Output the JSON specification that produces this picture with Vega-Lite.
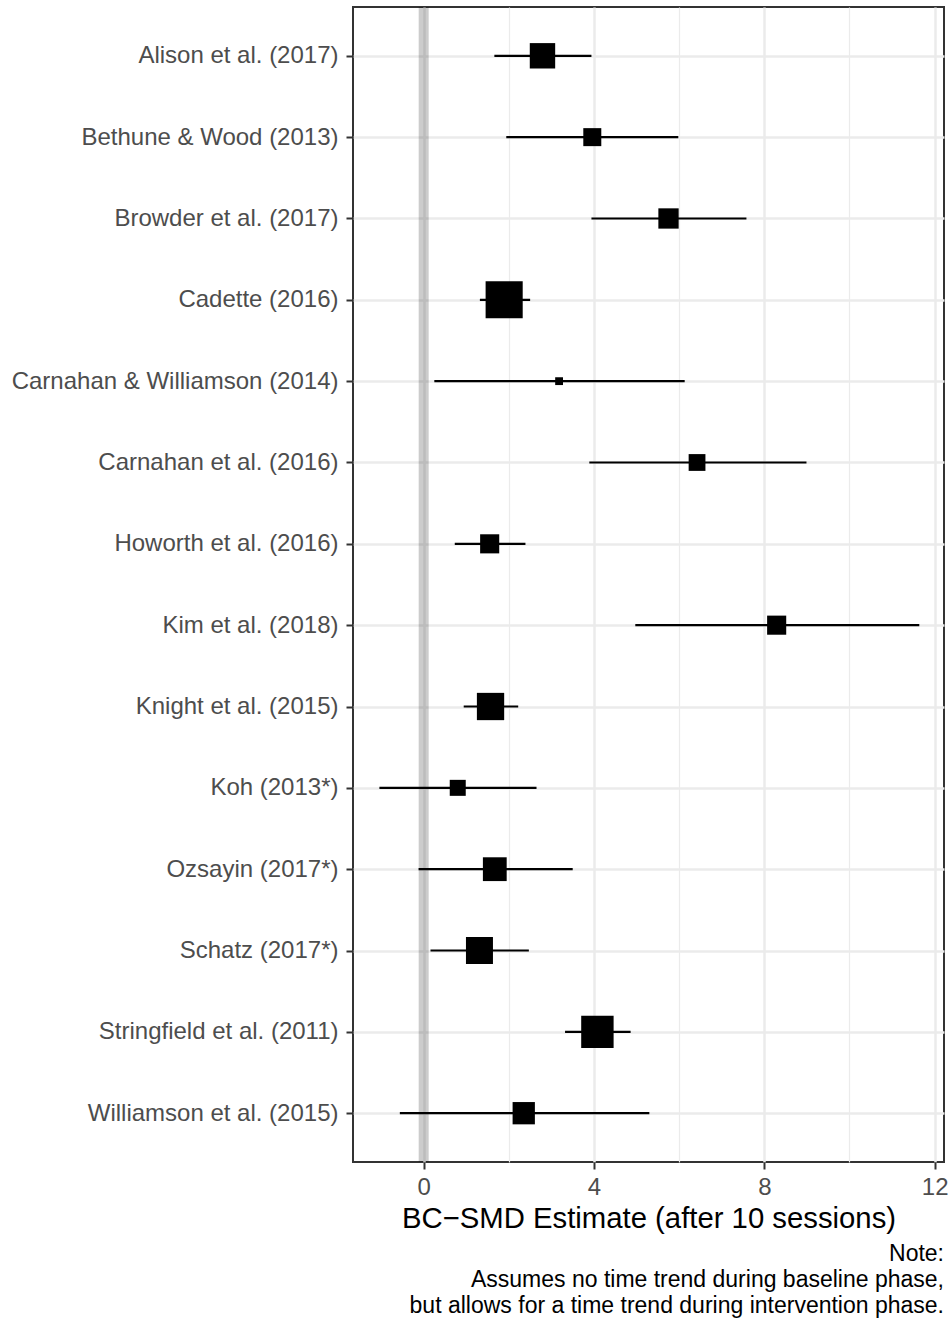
{
  "$schema": "https://vega.github.io/schema/vega-lite/v6.json",
  "autosize": "none",
  "width": 591,
  "height": 1155,
  "padding": {"left": 353, "top": 7, "right": 6, "bottom": 160},
  "background": "white",
  "config": {
    "font": "Liberation Sans",
    "view": {"stroke": "#333333", "strokeWidth": 2},
    "axis": {"labelFont": "Liberation Sans", "titleFont": "Liberation Sans"}
  },
  "title": {
    "text": ["Note:", "Assumes no time trend during baseline phase,", "but allows for a time trend during intervention phase."],
    "orient": "bottom",
    "anchor": "end",
    "frame": "group",
    "align": "right",
    "fontSize": 23,
    "fontWeight": "normal",
    "font": "Liberation Sans",
    "color": "#000000",
    "lineHeight": 25.8,
    "offset": 10
  },
  "datasets": {
    "studies": [
      {"study": "Alison et al. (2017)", "est": 2.79, "lower": 1.66, "upper": 3.94, "weight": 6.45},
      {"study": "Bethune & Wood (2013)", "est": 3.96, "lower": 1.94, "upper": 5.98, "weight": 3.24},
      {"study": "Browder et al. (2017)", "est": 5.75, "lower": 3.94, "upper": 7.58, "weight": 4.12},
      {"study": "Cadette (2016)", "est": 1.89, "lower": 1.32, "upper": 2.5, "weight": 13.76},
      {"study": "Carnahan & Williamson (2014)", "est": 3.18, "lower": 0.25, "upper": 6.13, "weight": 0.61},
      {"study": "Carnahan et al. (2016)", "est": 6.42, "lower": 3.89, "upper": 8.99, "weight": 2.82},
      {"study": "Howorth et al. (2016)", "est": 1.55, "lower": 0.73, "upper": 2.39, "weight": 3.65},
      {"study": "Kim et al. (2018)", "est": 8.29, "lower": 4.97, "upper": 11.64, "weight": 3.65},
      {"study": "Knight et al. (2015)", "est": 1.57, "lower": 0.94, "upper": 2.22, "weight": 7.45},
      {"study": "Koh (2013*)", "est": 0.8, "lower": -1.04, "upper": 2.65, "weight": 2.56},
      {"study": "Ozsayin (2017*)", "est": 1.67, "lower": -0.12, "upper": 3.5, "weight": 5.66},
      {"study": "Schatz (2017*)", "est": 1.31, "lower": 0.16, "upper": 2.47, "weight": 7.29},
      {"study": "Stringfield et al. (2011)", "est": 4.08, "lower": 3.32, "upper": 4.86, "weight": 10.5},
      {"study": "Williamson et al. (2015)", "est": 2.35, "lower": -0.56, "upper": 5.3, "weight": 4.97}
    ]
  },
  "layer": [
    {
      "data": {"values": [{"ref": 0}]},
      "mark": {"type": "rule", "color": "#000000", "opacity": 0.2, "strokeWidth": 10},
      "encoding": {
        "x": {
          "field": "ref",
          "type": "quantitative",
          "scale": {"domain": [-1.66, 12.22], "nice": false, "zero": false},
          "axis": {
            "orient": "top",
            "values": [2, 6, 10],
            "labels": false,
            "ticks": false,
            "domain": false,
            "title": null,
            "grid": true,
            "gridColor": "#ebebeb",
            "gridWidth": 1.2
          }
        }
      }
    },
    {
      "data": {"name": "studies"},
      "layer": [
        {
          "mark": {"type": "rule", "color": "#000000", "strokeWidth": 2.2},
          "encoding": {
            "y": {
              "field": "study",
              "type": "nominal",
              "sort": null,
              "scale": {"type": "point", "padding": 0.6},
              "axis": {
                "title": null,
                "domain": false,
                "grid": true,
                "gridColor": "#ebebeb",
                "gridWidth": 2.5,
                "tickSize": 7,
                "tickWidth": 2,
                "tickColor": "#333333",
                "labelPadding": 8,
                "labelFontSize": 24,
                "labelColor": "#4d4d4d",
                "labelLimit": 400
              }
            },
            "x": {
              "field": "lower",
              "type": "quantitative",
              "scale": {"domain": [-1.66, 12.22], "nice": false, "zero": false},
              "axis": {
                "orient": "bottom",
                "values": [0, 4, 8, 12],
                "title": "BC−SMD Estimate (after 10 sessions)",
                "titleFontSize": 29.3,
                "titleFontWeight": "normal",
                "titleColor": "#000000",
                "titlePadding": 5,
                "domain": false,
                "grid": true,
                "gridColor": "#ebebeb",
                "gridWidth": 2.5,
                "tickSize": 7,
                "tickWidth": 2,
                "tickColor": "#333333",
                "labelPadding": 6,
                "labelFontSize": 24,
                "labelColor": "#4d4d4d",
                "labelFlush": false
              }
            },
            "x2": {"field": "upper"}
          }
        },
        {
          "mark": {"type": "point", "shape": "square", "filled": true, "color": "#000000", "opacity": 1},
          "encoding": {
            "y": {"field": "study", "type": "nominal", "sort": null},
            "x": {"field": "est", "type": "quantitative"},
            "size": {
              "field": "weight",
              "type": "quantitative",
              "scale": {"domain": [0, 10], "range": [0, 1000]},
              "legend": null
            }
          }
        }
      ]
    }
  ],
  "resolve": {"axis": {"x": "independent"}}
}
